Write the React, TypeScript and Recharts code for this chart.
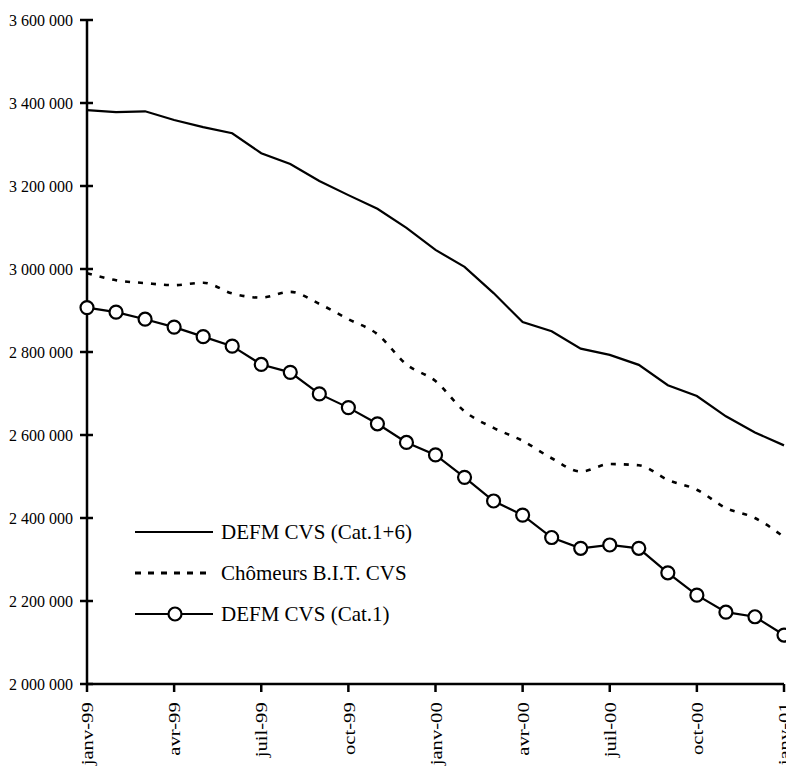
import React from 'react';
import { LineChart, Line, XAxis, YAxis, Legend } from 'recharts';

const months = [
  'janv-99', 'févr-99', 'mars-99', 'avr-99', 'mai-99', 'juin-99', 'juil-99', 'août-99', 'sept-99',
  'oct-99', 'nov-99', 'déc-99', 'janv-00', 'févr-00', 'mars-00', 'avr-00', 'mai-00', 'juin-00',
  'juil-00', 'août-00', 'sept-00', 'oct-00', 'nov-00', 'déc-00', 'janv-01',
];

const defmCat16 = [
  3383000, 3378000, 3380000, 3359000, 3342000, 3327000, 3279000, 3253000, 3212000, 3178000,
  3145000, 3099000, 3046000, 3005000, 2942000, 2872000, 2850000, 2808000, 2793000, 2769000,
  2720000, 2694000, 2645000, 2606000, 2575000,
];

const chomeursBIT = [
  2990000, 2973000, 2966000, 2961000, 2967000, 2941000, 2931000, 2945000, 2916000, 2879000,
  2843000, 2770000, 2730000, 2657000, 2617000, 2586000, 2544000, 2512000, 2530000, 2527000,
  2492000, 2468000, 2424000, 2400000, 2354000,
];

const defmCat1 = [
  2907000, 2896000, 2879000, 2860000, 2837000, 2814000, 2770000, 2751000, 2699000, 2666000,
  2627000, 2582000, 2552000, 2498000, 2441000, 2407000, 2353000, 2327000, 2335000, 2327000,
  2268000, 2214000, 2173000, 2162000, 2118000,
];

const yTicks = [2000000, 2200000, 2400000, 2600000, 2800000, 3000000, 3200000, 3400000, 3600000];

const legendLabels = ['DEFM CVS (Cat.1+6)', 'Chômeurs B.I.T. CVS', 'DEFM CVS (Cat.1)'];

const data = months.map((m, i) => ({
  month: m,
  cat16: defmCat16[i],
  bit: chomeursBIT[i],
  cat1: defmCat1[i],
}));

const FONT = '"Liberation Serif", "Times New Roman", serif';

const fmt = (v: number) => String(v).replace(/\B(?=(\d{3})+(?!\d))/g, ' ');

const YTick = (props: any) => {
  const { x, y, payload } = props;
  return (
    <g>
      <line x1={x + 9} x2={x + 15} y1={y} y2={y} stroke="#000" strokeWidth={2.5} />
      <text
        x={x - 5}
        y={y}
        dy="0.35em"
        textAnchor="end"
        fontFamily={FONT}
        fontSize={16}
        fill="#000"
      >
        {fmt(payload.value)}
      </text>
    </g>
  );
};

const XTick = (props: any) => {
  const { x, y, payload } = props;
  return (
    <g transform={`translate(${x},${y})`}>
      <text
        transform="rotate(-90) scale(1.18,1)"
        x={-7}
        y={0}
        dy="0.35em"
        textAnchor="end"
        fontFamily={FONT}
        fontSize={17.5}
        fill="#000"
      >
        {payload.value}
      </text>
    </g>
  );
};

const LegendContent = () => {
  const rows = [20, 61, 102];
  return (
    <svg width={330} height={120} style={{ display: 'block' }}>
      <line x1={7} x2={85} y1={rows[0]} y2={rows[0]} stroke="#000" strokeWidth={2.2} />
      <text x={93} y={rows[0]} dy="0.35em" fontFamily={FONT} fontSize={21} fill="#000">
        {legendLabels[0]}
      </text>
      <line x1={7} x2={85} y1={rows[1]} y2={rows[1]} stroke="#000" strokeWidth={2.8} strokeDasharray="6 7" />
      <text x={93} y={rows[1]} dy="0.35em" fontFamily={FONT} fontSize={21} fill="#000">
        {legendLabels[1]}
      </text>
      <line x1={7} x2={85} y1={rows[2]} y2={rows[2]} stroke="#000" strokeWidth={2.2} />
      <circle cx={47} cy={rows[2]} r={6.5} fill="#fff" stroke="#000" strokeWidth={2.2} />
      <text x={93} y={rows[2]} dy="0.35em" fontFamily={FONT} fontSize={21} fill="#000">
        {legendLabels[2]}
      </text>
    </svg>
  );
};

export default function App() {
  return (
    <div style={{ position: 'relative', width: 786, height: 760 }}>
      <LineChart
        width={786}
        height={760}
        data={data}
        margin={{ top: 12, right: 10, left: 0, bottom: 0 }}
      >
        <XAxis
          dataKey="month"
          interval={2}
          height={84}
          tickSize={8}
          tickMargin={2}
          axisLine={{ stroke: '#000', strokeWidth: 2.5 }}
          tickLine={{ stroke: '#000', strokeWidth: 2.5 }}
          tick={<XTick />}
        />
        <YAxis
          type="number"
          domain={[2000000, 3600000]}
          ticks={yTicks}
          width={79}
          tickSize={7}
          tickMargin={2}
          axisLine={{ stroke: '#000', strokeWidth: 2.5 }}
          tickLine={{ stroke: '#000', strokeWidth: 2.5 }}
          tick={<YTick />}
          allowDataOverflow
        />
        <Legend
          layout="vertical"
          align="center"
          verticalAlign="middle"
          wrapperStyle={{ left: 120, top: 504, width: 330, height: 120 }}
          content={<LegendContent />}
        />
        <Line
          dataKey="cat16"
          type="linear"
          stroke="#000"
          strokeWidth={2.2}
          dot={false}
          isAnimationActive={false}
        />
        <Line
          dataKey="bit"
          type="monotone"
          stroke="#000"
          strokeWidth={2.6}
          strokeDasharray="5 8"
          dot={false}
          isAnimationActive={false}
        />
        <Line
          dataKey="cat1"
          type="linear"
          stroke="#000"
          strokeWidth={2.2}
          dot={{ r: 6.5, fill: '#fff', stroke: '#000', strokeWidth: 2.2 }}
          isAnimationActive={false}
        />
      </LineChart>
    </div>
  );
}
